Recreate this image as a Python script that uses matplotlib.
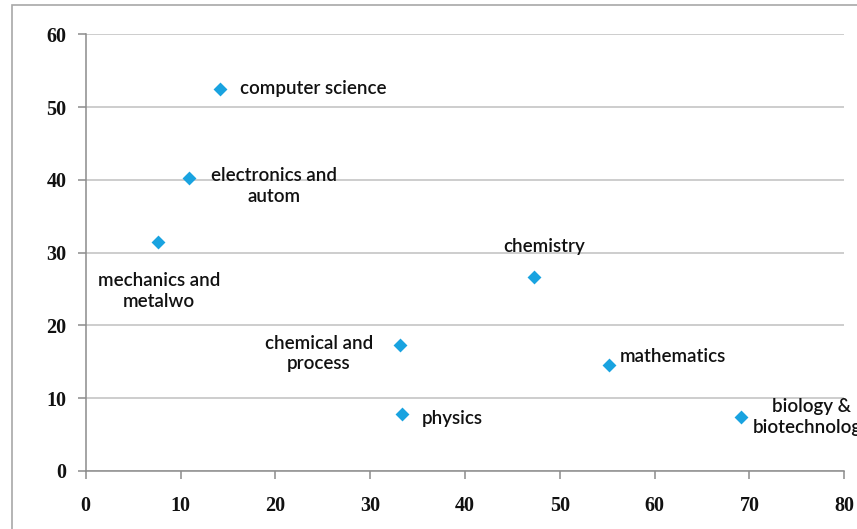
import matplotlib
matplotlib.use("Agg")
import matplotlib.pyplot as plt
from matplotlib.patches import Rectangle

# Field scores: x and y for each discipline
fields = [
    "computer science",
    "electronics and\nautom",
    "mechanics and\nmetalwo",
    "chemistry",
    "chemical and\nprocess",
    "physics",
    "mathematics",
    "biology &\nbiotechnology",
]
x_vals = [14.2, 10.9, 7.6, 47.3, 33.1, 33.4, 55.2, 69.1]
y_vals = [52.5, 40.3, 31.4, 26.7, 17.3, 7.8, 14.6, 7.4]

# label offsets in points (dx, dy) and alignment per point
label_pos = [
    ((14, 0), "left"),
    ((61, -6), "center"),
    ((1, -35), "center"),
    ((7, 22), "center"),
    ((-58, -6), "center"),
    ((14, -3), "left"),
    ((8, 6), "left"),
    ((51, 0), "center"),
]

x_ticks = [0, 10, 20, 30, 40, 50, 60, 70, 80]
y_ticks = [0, 10, 20, 30, 40, 50, 60]

fig = plt.figure(figsize=(8.57, 5.29), dpi=100)
ax = fig.add_axes([85.7 / 857, 1 - 471 / 529, (844.3 - 85.7) / 857, (471 - 34.3) / 529])

# outer chart frame
fig.patches.append(Rectangle((12 / 857, -0.05), 1.1, 1 - 4.7 / 529 + 0.05,
                             transform=fig.transFigure, fill=False,
                             edgecolor="#a8a8a8", linewidth=1.2, zorder=0))

ax.scatter(x_vals, y_vals, marker="D", s=50, color="#19a3e0", zorder=3,
           linewidths=0)

label_font = dict(family="Lato", size=13.5, weight="semibold", color="#111111")
for name, xv, yv, ((dx, dy), ha) in zip(fields, x_vals, y_vals, label_pos):
    ax.annotate(name, (xv, yv), xytext=(dx, dy), textcoords="offset points",
                ha=ha, va="center", multialignment="center",
                linespacing=1.25, annotation_clip=False, **label_font)

ax.set_xlim(0, 80)
ax.set_ylim(0, 60)
ax.set_xticks(x_ticks)
ax.set_yticks(y_ticks)
ax.grid(axis="y", color="#c0c0c0", linewidth=1.1)
ax.set_axisbelow(True)

for side in ("top", "right"):
    ax.spines[side].set_visible(False)
for side in ("left", "bottom"):
    ax.spines[side].set_color("#8c8c8c")
    ax.spines[side].set_linewidth(1.1)

ax.tick_params(axis="both", direction="out", length=6, width=1.1,
               color="#8c8c8c")
ax.tick_params(axis="x", pad=12)
ax.tick_params(axis="y", pad=8)
for lbl in ax.get_xticklabels() + ax.get_yticklabels():
    lbl.set_fontfamily("Liberation Serif")
    lbl.set_fontweight("bold")
    lbl.set_fontsize(14.5)
    lbl.set_color("#111111")

fig.savefig("out.png", dpi=100)
